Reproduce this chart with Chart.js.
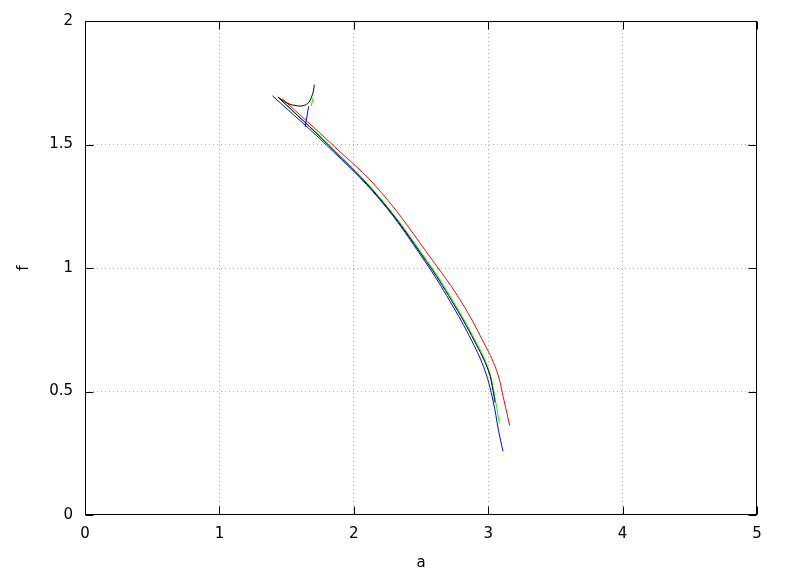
<!DOCTYPE html>
<html>
<head>
<meta charset="utf-8">
<script src="https://cdn.jsdelivr.net/npm/chart.js@4/dist/chart.umd.min.js"></script>
<style>
html,body{margin:0;padding:0;background:#fff;}
canvas{display:block;}
</style>
</head>
<body>
<canvas id="c" width="788" height="576"></canvas>
<script>
// ---- data ----
const xTicks = [0, 1, 2, 3, 4, 5];
const yTicks = [0, 0.5, 1, 1.5, 2];

const redA   = [1.466, 1.845, 2.195, 2.592, 2.798, 2.961, 3.063, 3.118, 3.160];
const redF   = [1.686, 1.497, 1.312, 1.026, 0.865, 0.704, 0.584, 0.463, 0.362];

const greenA = [1.436, 1.819, 2.195, 2.550, 2.740, 2.906, 3.006, 3.054, 3.083];
const greenF = [1.692, 1.497, 1.284, 1.026, 0.865, 0.704, 0.584, 0.463, 0.370];
const greenTipA = [1.684, 1.697];
const greenTipF = [1.656, 1.690];

const blueA  = [1.395, 1.798, 2.195, 2.530, 2.716, 2.879, 2.976, 3.036, 3.077, 3.110];
const blueF  = [1.697, 1.497, 1.276, 1.026, 0.865, 0.704, 0.584, 0.463, 0.342, 0.258];
const blueTipA = [1.638, 1.664];
const blueTipF = [1.571, 1.654];

const blackA = [1.436, 1.812, 2.195, 2.541, 2.731, 2.898, 3.002, 3.036, 3.051];
const blackF = [1.692, 1.497, 1.280, 1.026, 0.865, 0.704, 0.584, 0.503, 0.456];
const blackTopA = [1.436, 1.503, 1.563, 1.622, 1.667, 1.689, 1.700, 1.706];
const blackTopF = [1.692, 1.668, 1.658, 1.657, 1.672, 1.698, 1.718, 1.742];

function pts(a, f) { return a.map((v, i) => ({x: v, y: f[i]})); }
function ds(a, f, color, tension) {
  return {data: pts(a, f), borderColor: color, backgroundColor: color,
          borderWidth: 1, pointRadius: 0, showLine: true, fill: false,
          tension: tension};
}

const FONT = {family: 'DejaVu Sans', size: 15};
const gridColor = (ctx) => {
  const v = ctx.tick ? ctx.tick.value : null;
  const s = ctx.scale;
  if (v === null || v === s.min || v === s.max) return 'rgba(0,0,0,0)';
  return '#a8a8a8';
};

const frame = {
  id: 'frame',
  afterDraw(chart) {
    const {ctx, chartArea: ca, scales} = chart;
    ctx.save();
    ctx.strokeStyle = '#000';
    ctx.lineWidth = 1;
    ctx.setLineDash([]);
    const L = Math.round(ca.left) + 0.5, R = Math.round(ca.right) - 0.5;
    const T = Math.round(ca.top) + 0.5, B = Math.round(ca.bottom) - 0.5;
    ctx.beginPath();
    const tl = 8;
    xTicks.forEach(v => {
      const x = Math.round(scales.x.getPixelForValue(v)) + 0.5;
      ctx.moveTo(x, B); ctx.lineTo(x, B - tl);
      ctx.moveTo(x, T); ctx.lineTo(x, T + tl);
    });
    yTicks.forEach(v => {
      const y = Math.round(scales.y.getPixelForValue(v)) + 0.5;
      ctx.moveTo(L, y); ctx.lineTo(L + tl, y);
      ctx.moveTo(R, y); ctx.lineTo(R - tl, y);
    });
    ctx.stroke();
    ctx.strokeRect(L, T, R - L, B - T);
    ctx.restore();
  }
};

new Chart(document.getElementById('c'), {
  type: 'scatter',
  data: {
    datasets: [
      ds(blackTopA, blackTopF, '#000000', 0.4),
      ds(blackA, blackF, '#000000', 0.4),
      ds(blueTipA, blueTipF, '#0000ff', 0),
      ds(blueA, blueF, '#0000ff', 0.4),
      ds(greenTipA, greenTipF, '#00ff00', 0),
      ds(greenA, greenF, '#00ff00', 0.4),
      ds(redA, redF, '#ff0000', 0.4)
    ]
  },
  options: {
    responsive: false,
    devicePixelRatio: 1,
    animation: false,
    events: [],
    layout: {padding: {top: 18, right: 31, left: 0, bottom: 0}},
    plugins: {legend: {display: false}, tooltip: {enabled: false}},
    scales: {
      x: {
        type: 'linear', min: 0, max: 5,
        afterBuildTicks: (s) => { s.ticks = xTicks.map(v => ({value: v})); },
        afterFit: (s) => { s.height = 61; },
        ticks: {font: FONT, color: '#000', padding: 10, maxRotation: 0},
        grid: {color: gridColor, lineWidth: 1, drawTicks: false},
        border: {display: false, dash: [1, 3]},
        title: {display: true, text: 'a', font: FONT, color: '#000', padding: {top: 0, bottom: 4}}
      },
      y: {
        type: 'linear', min: 0, max: 2,
        afterBuildTicks: (s) => { s.ticks = yTicks.map(v => ({value: v})); },
        afterFit: (s) => { s.width = 85; },
        ticks: {font: FONT, color: '#000', padding: 12,
                callback: (v) => String(v)},
        grid: {color: gridColor, lineWidth: 1, drawTicks: false},
        border: {display: false, dash: [1, 3]},
        title: {display: true, text: 'f', font: FONT, color: '#000', padding: {top: 15, bottom: 0}}
      }
    }
  },
  plugins: [frame]
});
</script>
</body>
</html>
